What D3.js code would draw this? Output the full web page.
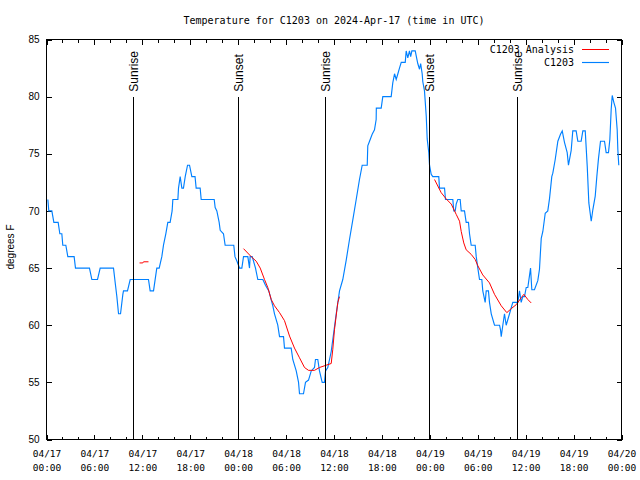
<!DOCTYPE html>
<html><head><meta charset="utf-8">
<script src="https://cdn.jsdelivr.net/npm/d3@7"></script>
<style>body{margin:0;background:#fff}</style>
</head><body><svg id="c" width="640" height="480"></svg>
<script>
const titleText = "Temperature for C1203 on 2024-Apr-17 (time in UTC)";
const yLabelText = "degrees F";
const seriesNames = ["C1203 Analysis", "C1203"];
const seriesColors = ["#ff0000", "#0080ff"];
const startUTC = Date.UTC(2024, 3, 17, 0, 0);
const endUTC = Date.UTC(2024, 3, 20, 0, 0);
const yTicks = [50, 55, 60, 65, 70, 75, 80, 85];
const xTickDates = ["04/17","04/17","04/17","04/17","04/18","04/18","04/18","04/18","04/19","04/19","04/19","04/19","04/20"];
const xTickTimes = ["00:00","06:00","12:00","18:00","00:00","06:00","12:00","18:00","00:00","06:00","12:00","18:00","00:00"];
const sunEvents = ["Sunrise", "Sunset", "Sunrise", "Sunset", "Sunrise"];
const sunHours = [10.8, 23.95, 34.85, 47.9, 58.9];

// observed C1203 (hours after 04/17 00:00 UTC, deg F)
const obsHours = [0.17,0.29,0.67,0.92,1.46,1.67,1.92,2.04,2.42,2.67,3.46,3.63,5.38,5.68,6.39,6.72,8.39,8.64,8.81,9.02,9.27,9.56,9.64,10.14,10.48,12.77,12.98,13.4,13.81,14.11,14.44,14.65,14.94,15.19,15.48,15.73,15.82,16.45,16.53,16.74,16.95,17.15,17.37,17.66,17.91,18.2,18.6,18.74,19.24,19.37,21.0,21.12,21.33,21.62,21.75,22.16,22.37,23.45,23.6,23.85,24.17,24.46,24.67,25.21,25.42,25.5,25.76,26.17,26.46,27.09,27.42,27.84,28.34,28.55,28.96,29.18,29.68,29.8,30.64,30.84,31.27,31.56,31.68,32.18,32.43,32.81,33.15,33.56,33.68,33.97,34.18,34.52,34.81,34.94,35.22,35.44,35.65,36.28,36.69,37.1,37.53,37.94,38.35,38.78,39.19,39.53,40.16,40.23,40.45,40.78,41.07,41.28,41.3,41.91,42.11,43.16,43.36,43.58,43.79,44.0,44.2,44.42,44.92,45.04,45.24,45.45,45.6,45.75,46.17,46.37,46.49,46.71,46.85,47.04,47.12,47.33,47.55,47.67,47.87,47.96,48.17,48.37,49.12,49.21,49.84,49.96,50.88,51.0,51.18,51.3,51.5,51.8,51.93,52.34,52.55,52.84,52.97,53.18,53.68,53.81,54.01,54.22,54.51,54.63,54.93,55.06,55.34,55.47,55.69,56.1,56.73,56.85,56.94,57.14,57.35,57.56,57.98,58.26,58.39,59.02,59.23,59.44,59.64,59.85,60.07,60.27,60.61,60.77,61.1,61.52,61.73,61.95,62.15,62.45,62.77,62.99,63.27,63.4,63.7,64.03,64.36,64.58,64.86,65.2,65.36,65.7,65.9,66.32,66.53,66.95,67.16,67.46,67.71,67.91,68.21,68.41,68.71,68.91,69.12,69.37,69.87,70.08,70.37,70.54,70.71,70.84,71.04,71.25,71.46,71.54,71.66];
const obsTemps = [71,70,70,69,69,68,68,67,67,66,66,65,65,64,64,65,65,63.5,62.5,61,61,62.7,63,63,64,64,63,63,65,65,66,67,68,69,69,70,71,71,72,73,72,72,73,74,74,73,73,72,72,71,71,70.3,70,69,68.3,68,67,67,66,65.6,65,65,66,66,65,66,66,65,64,64,63.5,63,61.7,61,60,59,59,58,58,57,56,55,54,54,55,55.2,56,56.3,57,57,56,55,55,56,56.3,57,57.7,61,63,64,65.7,67.5,69.2,71,72.75,74,74,75.7,76.1,76.7,77.1,78,79,79,80,80,81.2,82,81.5,82,82.5,83,83,84,83.4,84,83.5,84,84,83.3,82.9,82.4,82.9,82,81.3,80.5,78.3,76.3,75.1,74,73.2,73,73,72,72,71,71,70,70,70.6,71,71,70,70,69,69,68,67,67,66,65,64,64,63,62,63,63,62,61,60,60,59.6,59,60,61,60,61,61.7,62,62,63,62,62.5,62.5,63.3,63.3,65,63.1,63.1,63.9,64.9,67.6,68.2,69.8,70,71.1,73,73.3,74.5,76.1,76.7,77,76,75.1,74,75.3,77,77,76.1,76.1,77,77,73.9,70.7,69.1,70.1,71.3,73,74.6,76.1,76.1,75.1,75.1,76.25,78.9,80.1,79.5,79,77.1,75.4,74];

// analysis C1203 (null = gap)
const anaHours = [11.65,12.06,12.15,12.77,null,24.67,25.63,26.26,26.76,27.3,27.71,28.14,28.55,29.18,29.8,30.43,31.05,31.68,32.31,32.81,33.56,34.18,35.02,35.65,35.85,36.06,36.48,36.69,null,48.59,49.42,50.05,50.68,51.3,51.72,51.93,52.25,52.55,53.18,53.68,54.01,54.63,55.47,56.1,56.94,57.64,58.19,58.82,59.44,59.77,60.27,60.69];
const anaTemps = [65.45,65.45,65.55,65.55,null,66.7,66.0,65.6,65.0,64,63.3,62.25,61.7,61.1,60.4,59.05,58.0,57.15,56.3,56.05,56.05,56.3,56.5,56.65,57.9,59.6,62.0,62.5,null,72.75,71.6,71.05,70.6,69.7,69.1,68.2,67.2,66.6,66.2,65.75,65.2,64.4,63.7,62.7,61.7,61.1,61.45,61.8,62.4,62.7,62.25,61.95];

const L = 46.5, R = 621.5, T = 39.5, B = 439.5;
const mono = "'DejaVu Sans Mono', monospace";
const sans = "'Liberation Sans', Arial, sans-serif";
const toDate = h => new Date(startUTC + h * 3600e3);

const svg = d3.select("#c");
svg.append("rect").attr("width", 640).attr("height", 480).attr("fill", "#fff");

const x = d3.scaleUtc().domain([new Date(startUTC), new Date(endUTC)]).range([L, R]);
const y = d3.scaleLinear().domain([50, 85]).range([B, T]);

const minorTicks = d3.utcHour.every(2).range(new Date(startUTC), new Date(endUTC + 1));
const majorTicks = d3.utcHour.every(6).range(new Date(startUTC), new Date(endUTC + 1));

function styleAxis(g) {
  g.select(".domain").remove();
  g.selectAll("line").attr("stroke", "#000").attr("shape-rendering", "crispEdges");
}

// minor x ticks (bottom & top)
svg.append("g").attr("transform", `translate(0,${B})`)
  .call(d3.axisBottom(x).tickValues(minorTicks).tickSize(-3).tickFormat("")).call(styleAxis);
svg.append("g").attr("transform", `translate(0,${T})`)
  .call(d3.axisTop(x).tickValues(minorTicks).tickSize(-3).tickFormat("")).call(styleAxis);
// major x ticks
const xb = svg.append("g").attr("transform", `translate(0,${B})`)
  .call(d3.axisBottom(x).tickValues(majorTicks).tickSize(-5).tickFormat((d, i) => xTickDates[i])).call(styleAxis);
xb.selectAll(".tick text").each(function(d, i) {
  const t = d3.select(this);
  t.text(null).attr("y", 0).attr("dy", null)
    .attr("font-family", mono).attr("font-size", "9.5px").attr("fill", "#000");
  t.append("tspan").attr("x", 0).attr("y", 17.5).text(xTickDates[i]);
  t.append("tspan").attr("x", 0).attr("y", 31.5).text(xTickTimes[i]);
});
svg.append("g").attr("transform", `translate(0,${T})`)
  .call(d3.axisTop(x).tickValues(majorTicks).tickSize(-5).tickFormat("")).call(styleAxis);

// y ticks
const yl = svg.append("g").attr("transform", `translate(${L},0)`)
  .call(d3.axisLeft(y).tickValues(yTicks).tickSize(-5).tickPadding(7).tickFormat(d3.format("d"))).call(styleAxis);
yl.selectAll(".tick text").attr("font-family", sans).attr("font-size", "10px").attr("fill", "#000");
svg.append("g").attr("transform", `translate(${R},0)`)
  .call(d3.axisRight(y).tickValues(yTicks).tickSize(-5).tickFormat("")).call(styleAxis);

// frame
svg.append("rect").attr("x", L).attr("y", T).attr("width", R - L).attr("height", B - T)
  .attr("fill", "none").attr("stroke", "#000").attr("stroke-width", 1).attr("shape-rendering", "crispEdges");

// data
const obs = obsHours.map((h, i) => ({ t: toDate(h), v: obsTemps[i] }));
const ana = anaHours.map((h, i) => ({ t: h == null ? null : toDate(h), v: anaTemps[i] }));
const line = d3.line().defined(d => d.v != null).x(d => x(d.t)).y(d => y(d.v));

svg.append("path").datum(obs).attr("d", line).attr("fill", "none")
  .attr("stroke", seriesColors[1]).attr("stroke-width", 1.15).attr("stroke-linejoin", "miter");
svg.append("path").datum(ana).attr("d", line).attr("fill", "none")
  .attr("stroke", seriesColors[0]).attr("stroke-width", 1);

// sunrise / sunset markers
const sun = svg.append("g");
sunHours.forEach((h, i) => {
  const sx = Math.round(x(toDate(h))) + 0.5;
  sun.append("line").attr("x1", sx).attr("x2", sx).attr("y1", y(80)).attr("y2", B)
    .attr("stroke", "#000").attr("stroke-width", 1).attr("shape-rendering", "crispEdges");
  sun.append("text").attr("transform", `translate(${sx + 4.5},${y(80) - 5}) rotate(-90)`)
    .attr("font-family", sans).attr("font-size", "12px").attr("fill", "#000").text(sunEvents[i]);
});

// title & y label
svg.append("text").attr("x", (L + R) / 2).attr("y", 24).attr("text-anchor", "middle")
  .attr("font-family", mono).attr("font-size", "10px").attr("fill", "#000").text(titleText);
svg.append("text").attr("transform", "translate(14,247) rotate(-90)").attr("text-anchor", "middle")
  .attr("font-family", sans).attr("font-size", "10px").attr("fill", "#000").text(yLabelText);

// legend
seriesNames.forEach((n, i) => {
  const ly = 49.5 + i * 13;
  svg.append("text").attr("x", 574).attr("y", ly + 3.5).attr("text-anchor", "end")
    .attr("font-family", mono).attr("font-size", "10px").attr("fill", "#000").text(n);
  svg.append("line").attr("x1", 582).attr("x2", 609).attr("y1", ly).attr("y2", ly)
    .attr("stroke", seriesColors[i]).attr("stroke-width", i === 0 ? 1 : 1.15);
});
</script></body></html>
